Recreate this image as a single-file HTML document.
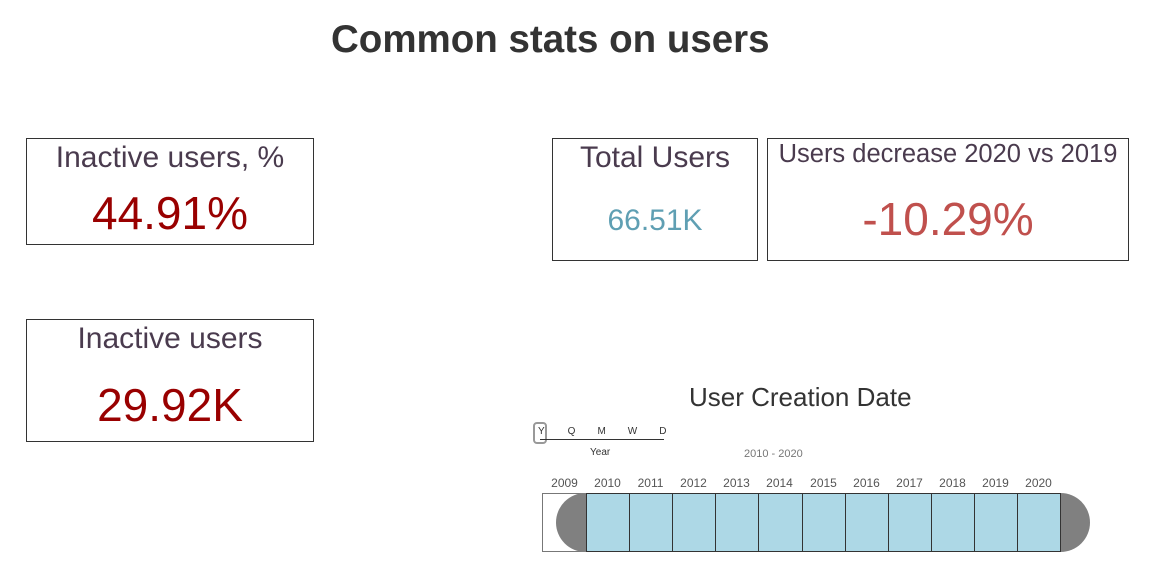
<!DOCTYPE html>
<html><head><style>
body{margin:0;width:1165px;height:582px;background:#fff;font-family:"Liberation Sans",sans-serif;position:relative;overflow:hidden}
.a{position:absolute}
.card{position:absolute;border:1px solid #333;box-sizing:border-box;text-align:center}
.t{color:#4a3b4e;font-size:30px}
.v{color:#990000;font-size:46px}
.cell{position:absolute;top:493px;height:59px;background:#add8e6;border:1px solid #333;box-sizing:border-box}
.yr{position:absolute;top:476px;font-size:12px;color:#555;width:43px;text-align:center}
</style></head><body>
<div class="a" style="left:331px;top:18px;font-size:38.5px;font-weight:bold;color:#333">Common stats on users</div>

<div class="card" style="left:26px;top:138px;width:288px;height:107px">
<div class="t" style="margin-top:2px">Inactive users, %</div>
<div class="v" style="margin-top:11px">44.91%</div></div>

<div class="card" style="left:26px;top:319px;width:288px;height:123px">
<div class="t" style="margin-top:2px">Inactive users</div>
<div class="v" style="margin-top:22px">29.92K</div></div>

<div class="card" style="left:552px;top:138px;width:206px;height:123px">
<div class="t" style="margin-top:2px">Total Users</div>
<div style="color:#5f9fb3;font-size:30px;margin-top:29px">66.51K</div></div>

<div class="card" style="left:767px;top:138px;width:362px;height:123px">
<div style="color:#4a3b4e;font-size:25.5px;margin-top:1px">Users decrease 2020 vs 2019</div>
<div style="color:#c0504d;font-size:46px;margin-top:23px">-10.29%</div></div>

<div class="a" style="left:689px;top:382px;font-size:26px;color:#333">User Creation Date</div>

<div class="a" style="left:533px;top:422px;width:14px;height:22px;border:2px solid #999;border-radius:4px;box-sizing:border-box"></div>
<div class="a" style="left:540px;top:439px;width:124px;height:1px;background:#333"></div>
<div class="a" style="left:538px;top:426px;font-size:10px;color:#333;width:140px">Y<span style="margin-left:23px">Q</span><span style="margin-left:22px">M</span><span style="margin-left:22px">W</span><span style="margin-left:22px">D</span></div>
<div class="a" style="left:590px;top:447px;font-size:10px;color:#333">Year</div>
<div class="a" style="left:744px;top:448px;font-size:11px;color:#777">2010 - 2020</div>

<div class="a" style="left:542px;top:493px;width:45px;height:59px;border:1px solid #777;box-sizing:border-box;background:#fff"></div>
<div class="a" style="left:556px;top:493px;width:60px;height:59px;border-radius:30px 0 0 30px;background:#808080"></div>
<div class="a" style="left:1030px;top:493px;width:60px;height:59px;border-radius:0 30px 30px 0;background:#808080"></div>
<div class="cell" style="left:586px;width:44px"></div>
<div class="cell" style="left:629px;width:44px"></div>
<div class="cell" style="left:672px;width:44px"></div>
<div class="cell" style="left:715px;width:44px"></div>
<div class="cell" style="left:758px;width:45px"></div>
<div class="cell" style="left:802px;width:44px"></div>
<div class="cell" style="left:845px;width:44px"></div>
<div class="cell" style="left:888px;width:44px"></div>
<div class="cell" style="left:931px;width:44px"></div>
<div class="cell" style="left:974px;width:44px"></div>
<div class="cell" style="left:1017px;width:44px"></div>
<div class="yr" style="left:543px">2009</div>
<div class="yr" style="left:586px">2010</div>
<div class="yr" style="left:629px">2011</div>
<div class="yr" style="left:672px">2012</div>
<div class="yr" style="left:715px">2013</div>
<div class="yr" style="left:758px">2014</div>
<div class="yr" style="left:802px">2015</div>
<div class="yr" style="left:845px">2016</div>
<div class="yr" style="left:888px">2017</div>
<div class="yr" style="left:931px">2018</div>
<div class="yr" style="left:974px">2019</div>
<div class="yr" style="left:1017px">2020</div>
</body></html>
